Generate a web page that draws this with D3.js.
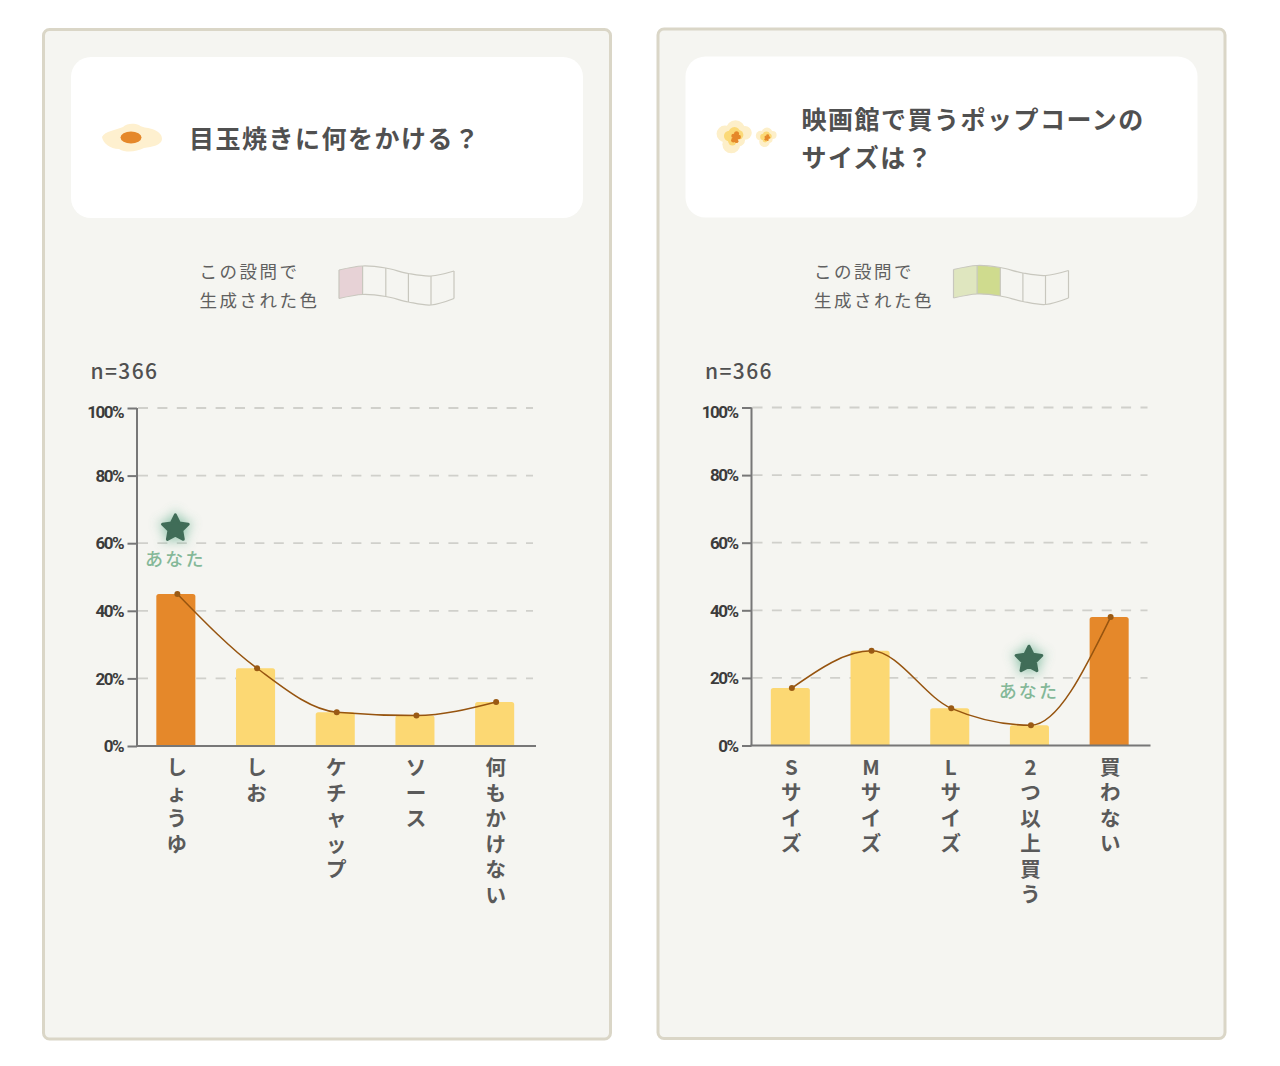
<!DOCTYPE html>
<html lang="ja">
<head>
<meta charset="utf-8">
<script src="https://cdn.jsdelivr.net/npm/d3@7"></script>
<style>
html,body{margin:0;padding:0;background:#fff}
svg{display:block}
text{font-family:"Noto Sans CJK JP","Noto Sans",sans-serif}
</style>
</head>
<body>
<svg id="chart" width="1280" height="1066"></svg>
<script>
const leftCategories = ["しょうゆ","しお","ケチャップ","ソース","何もかけない"];
const leftValues = [45,23,10,9,13];
const leftTitle = ["目玉焼きに何をかける？"];
const leftYou = 0;
const leftPeak = 0;
const leftRibbon = ["#e7d2d6",null,null,null,null];

const rightCategories = ["Sサイズ","Mサイズ","Lサイズ","2つ以上買う","買わない"];
const rightValues = [17,28,11,6,38];
const rightTitle = ["映画館で買うポップコーンの","サイズは？"];
const rightYou = 3;
const rightPeak = 4;
const rightRibbon = ["#dfe6bf","#cfdb8e",null,null,null];

const yTicks = [0,20,40,60,80,100];
const ribbonTop = [270,266,268,273.5,276,271];
const ribbonX = [339,362.6,385.8,408.4,431,454];
const ribbonDepth = [28.5,28.5,28.5,28.5,29,27.5];

const svg = d3.select("#chart");
const defs = svg.append("defs");
const blur = defs.append("filter").attr("id","glow").attr("x","-100%").attr("y","-100%").attr("width","300%").attr("height","300%");
blur.append("feGaussianBlur").attr("stdDeviation",6);

function starPath(R){
  const pts = d3.range(10).map(i=>{
    const r = i%2 ? R*0.5 : R, a = -Math.PI/2 + i*Math.PI/5;
    return [r*Math.cos(a), r*Math.sin(a)];
  });
  return d3.line().curve(d3.curveLinearClosed)(pts);
}

function drawEgg(g){
  g.append("path")
    .attr("d","M102,137 C105,131 116,130 123,127 C127,123 134,123 139,125 C142,128 147,127 152,129 C158,131 162,134 162,139 C162,145 152,147 144,148 C136,152 126,153 119,149 C110,149 103,143 102,137 Z")
    .attr("fill","#fef0cf");
  g.append("ellipse").attr("cx",131).attr("cy",137.5).attr("rx",10.5).attr("ry",6).attr("fill","#e5882a");
}

function drawPopcorn(g){
  const puff = (cx,cy,s)=>{
    [[-10,-3,8],[0,-7,9],[9,-4,6.5],[-4,7,8.5],[3,3,6]].forEach(d=>
      g.append("circle").attr("cx",cx+d[0]*s).attr("cy",cy+d[1]*s).attr("r",d[2]*s).attr("fill","#fdefc9"));
    [[-6,-1,5],[-1,-4,5.5],[3,-2,4.5],[-3,4,4]].forEach(d=>
      g.append("circle").attr("cx",cx+d[0]*s).attr("cy",cy+d[1]*s).attr("r",d[2]*s).attr("fill","#fbd977"));
    [[1,-3,2.4],[3,0,2.2],[0,1,2.6],[-2,3,2.2],[-2,-1,2],[1,4,1.8]].forEach(d=>
      g.append("circle").attr("cx",cx+d[0]*s).attr("cy",cy+d[1]*s).attr("r",d[2]*s).attr("fill","#e5882a"));
  };
  puff(121,137.5,1.05);
  puff(152.5,138,0.62);
}

function drawPanel(dx,dy,categories,values,title,you,peak,ribbon,icon){
  const g = svg.append("g").attr("transform",`translate(${dx},${dy})`);
  g.append("rect").attr("x",43.5).attr("y",29.5).attr("width",567).attr("height",1009.5).attr("rx",6)
    .attr("fill","#f5f5f1").attr("stroke","#dad6c7").attr("stroke-width",3);
  g.append("rect").attr("x",71).attr("y",57).attr("width",512).attr("height",161).attr("rx",20).attr("fill","#fff");

  icon(g);
  const titleY = title.length===1 ? [139] : [120,158];
  g.selectAll(".title").data(title).join("text").attr("class","title")
    .attr("x",title.length===1 ? 189 : 187).attr("y",(d,i)=>titleY[i]).attr("dy","0.36em")
    .attr("font-size",25).attr("font-weight",700).attr("letter-spacing",1.5).attr("fill","#505050").text(d=>d);

  g.selectAll(".note").data(["この設問で","生成された色"]).join("text").attr("class","note")
    .attr("x",199.5).attr("y",(d,i)=>272+i*29).attr("dy","0.36em")
    .attr("font-size",17.5).attr("font-weight",400).attr("letter-spacing",2.5).attr("fill","#606060").text(d=>d);

  const ribbonLine = d3.line().curve(d3.curveCatmullRom);
  const topPts = ribbonX.map((x,i)=>[x,ribbonTop[i]]);
  const botPts = ribbonX.map((x,i)=>[x,ribbonTop[i]+ribbonDepth[i]]);
  ribbon.forEach((c,i)=>{
    if(!c) return;
    const a=topPts[i],b=topPts[i+1],e=botPts[i+1],f=botPts[i];
    const mid=(p,q,k)=>[(p[0]+q[0])/2,(p[1]+q[1])/2+k];
    const k=i===0?-0.6:i===1?-0.3:0;
    g.append("path").attr("d",ribbonLine([a,mid(a,b,k),b])+"L"+e+ribbonLine([e,mid(f,e,k),f]).replace(/^M[^C]*/,"")+"Z").attr("fill",c);
  });
  g.append("path").attr("d",ribbonLine(topPts)).attr("fill","none").attr("stroke","#c8c7be").attr("stroke-width",1.2);
  g.append("path").attr("d",ribbonLine(botPts)).attr("fill","none").attr("stroke","#c8c7be").attr("stroke-width",1.2);
  ribbonX.forEach((x,i)=>g.append("line").attr("x1",x).attr("x2",x).attr("y1",ribbonTop[i]).attr("y2",ribbonTop[i]+ribbonDepth[i]).attr("stroke","#c8c7be").attr("stroke-width",1.2));

  g.append("text").attr("x",90.5).attr("y",371.5).attr("dy","0.36em").attr("font-size",21).attr("font-weight",500)
    .attr("letter-spacing",1.4).attr("fill","#505050").text("n=366");

  const x = d3.scaleBand().domain(categories).range([136,534.5]).paddingInner(0.51).paddingOuter(0.255);
  const y = d3.scaleLinear().domain([0,100]).range([746,408]);

  g.selectAll(".grid").data(yTicks.filter(t=>t>0)).join("line").attr("class","grid")
    .attr("x1",138).attr("x2",533).attr("y1",d=>y(d)).attr("y2",d=>y(d))
    .attr("stroke","#d0d0cb").attr("stroke-width",1.8).attr("stroke-dasharray","10 9.4");

  g.selectAll(".bar").data(values).join("path").attr("class","bar")
    .attr("d",(d,i)=>{
      const x0=x(categories[i]),w=x.bandwidth(),t=y(d),b=y(0),r=2.5;
      return `M${x0},${b}V${t+r}Q${x0},${t} ${x0+r},${t}H${x0+w-r}Q${x0+w},${t} ${x0+w},${t+r}V${b}Z`;
    })
    .attr("fill",(d,i)=>i===peak?"#e5882a":"#fcd873");

  const yAxis = d3.axisLeft(y).tickValues(yTicks).tickSize(9.5).tickPadding(4.5).tickFormat(d=>d+"%");
  const yg = g.append("g").attr("transform","translate(137,0)").call(yAxis);
  yg.select(".domain").attr("stroke","#777").attr("stroke-width",2).attr("d","M0,408V746");
  yg.selectAll(".tick line").attr("stroke","#777").attr("stroke-width",2);
  yg.selectAll(".tick text").attr("font-family","Roboto,sans-serif").style("font-family","Roboto,sans-serif")
    .attr("font-size",17).attr("font-weight",700).attr("letter-spacing",-1.5).attr("fill","#3c3c3c")
    .attr("dy",d=>d===100?"0.58em":"0.34em");

  const xAxis = d3.axisBottom(x).tickSize(0).tickFormat("");
  const xg = g.append("g").attr("transform","translate(0,746)").call(xAxis);
  xg.select(".domain").attr("stroke","#777").attr("stroke-width",2).attr("d","M136,0H536");

  g.selectAll(".cat").data(categories).join("text").attr("class","cat")
    .attr("transform",d=>`translate(${x(d)+x.bandwidth()/2+1},757)`)
    .style("writing-mode","vertical-rl").style("text-orientation","upright")
    .style("font-feature-settings",'"vert" 0,"vrt2" 0')
    .attr("font-size",20.5).attr("font-weight",700).attr("letter-spacing",5).attr("fill","#5a5a5a")
    .text(d=>d);

  const pts = values.map((v,i)=>[x(categories[i])+x.bandwidth()/2+1.5,y(v)]);
  g.append("path").attr("d",d3.line().curve(d3.curveMonotoneX)(pts)).attr("fill","none")
    .attr("stroke","#96540f").attr("stroke-width",1.5);
  g.selectAll(".pt").data(pts).join("circle").attr("class","pt")
    .attr("cx",d=>d[0]).attr("cy",d=>d[1]).attr("r",3).attr("fill","#9a5a14");

  const sx = x(categories[you])+x.bandwidth()/2-0.5, sy = y(values[you])-65.5;
  const sg = g.append("g").attr("transform",`translate(${sx},${sy})`);
  sg.append("path").attr("d",starPath(19)).attr("fill","#6fb596").attr("filter","url(#glow)").attr("opacity",0.8);
  sg.append("path").attr("d",starPath(13.5)).attr("fill","#406d58").attr("stroke","#406d58").attr("stroke-width",3).attr("stroke-linejoin","round");
  sg.append("text").attr("y",31.5).attr("dy","0.36em").attr("text-anchor","middle").attr("font-size",18).attr("font-weight",500)
    .attr("letter-spacing",2.2).attr("fill","#84b898").text("あなた");
}

drawPanel(0,0,leftCategories,leftValues,leftTitle,leftYou,leftPeak,leftRibbon,drawEgg);
drawPanel(614.5,-0.5,rightCategories,rightValues,rightTitle,rightYou,rightPeak,rightRibbon,drawPopcorn);
</script>
</body>
</html>
